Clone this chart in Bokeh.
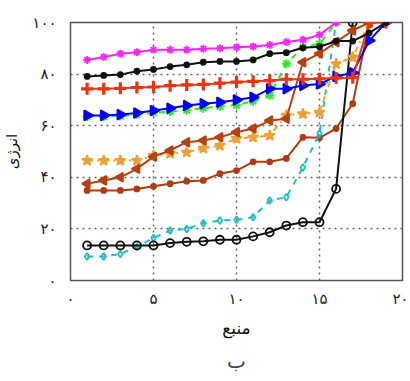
import math
from bokeh.plotting import figure
from bokeh.models import Range1d, FixedTicker, Title
from bokeh.embed import file_html
from bokeh.resources import INLINE

x_ticks = [0, 5, 10, 15, 20]
x_tick_labels = ["۰", "۵", "۱۰", "۱۵", "۲۰"]
y_ticks = [0, 20, 40, 60, 80, 100]
y_tick_labels = ["۰", "۲۰", "۴۰", "۶۰", "۸۰", "۱۰۰"]
x_label = "منبع"
y_label = "انرژی"
caption = "ب"

magenta = [85.5, 86.6, 87.9, 88.5, 89.4, 89.4, 89.4, 89.8, 90.0, 90.4, 90.7, 91.3, 92.4, 93.3, 95.2, 100]
black_dots = [79.1, 79.5, 79.8, 81.1, 81.8, 82.9, 83.6, 84.6, 84.9, 84.9, 85.5, 87.9, 88.3, 90.2, 90.6, 92.8, 92.8, 96.0, 100]
red = [74.3, 74.3, 74.5, 74.8, 75.0, 75.5, 75.8, 76.0, 76.5, 76.9, 77.2, 77.5, 78.0, 78.0, 78.2, 78.5, 78.6, 100, 100]
blue = [64.0, 64.0, 64.3, 64.9, 65.9, 66.8, 67.8, 68.5, 69.1, 70.0, 71.0, 74.3, 74.3, 75.6, 76.2, 79.1, 80.5, 93.0, 100]
green = [63.5, 63.5, 63.8, 64.3, 65.0, 65.5, 66.0, 66.8, 67.5, 68.0, 69.5, 71.7, 84.0, 90.4, 91.7, 100]
orange = [46.5, 46.5, 46.5, 46.5, 48.4, 49.2, 49.7, 51.2, 52.3, 55.0, 55.5, 56.2, 64.0, 64.6, 65.2, 84.0, 86.5, 100]
brown_tri = [37.5, 38.8, 40.0, 43.3, 48.0, 50.4, 53.6, 54.3, 55.5, 57.5, 58.9, 62.0, 62.7, 84.6, 88.0, 92.4, 96.9, 100]
brown_dots = [34.9, 34.9, 34.9, 35.5, 36.5, 37.5, 38.5, 38.8, 41.4, 42.6, 46.0, 46.0, 47.3, 55.5, 55.3, 58.9, 68.5, 100]
cyan = [9.3, 9.3, 10.3, 13.0, 16.5, 19.4, 20.0, 22.2, 23.3, 23.5, 24.5, 31.0, 32.3, 43.8, 57.0, 100]
black_open = [13.6, 13.6, 13.6, 13.6, 13.6, 14.5, 15.0, 15.2, 15.8, 15.8, 17.1, 18.7, 21.3, 22.6, 22.6, 35.5, 100]

FONT = "DejaVu Sans"

p = figure(width=408, height=379, output_backend="svg", toolbar_location=None,
           x_range=Range1d(0, 20), y_range=Range1d(0, 100),
           min_border_left=64, min_border_right=6, min_border_top=22, min_border_bottom=99)
p.background_fill_color = "white"
p.border_fill_color = "white"
p.outline_line_color = "#555555"
p.outline_line_width = 1.5

for ax in (p.xaxis[0], p.yaxis[0]):
    ax.axis_line_color = None
    ax.major_tick_line_color = None
    ax.minor_tick_line_color = None
    ax.major_label_text_font = FONT
    ax.major_label_text_font_size = "15px"
    ax.major_label_text_color = "#222222"
    ax.axis_label_text_font = FONT
    ax.axis_label_text_font_style = "normal"
    ax.axis_label_text_color = "#111111"

p.xaxis[0].ticker = FixedTicker(ticks=x_ticks)
p.xaxis[0].major_label_overrides = dict(zip(x_ticks, x_tick_labels))
p.yaxis[0].ticker = FixedTicker(ticks=y_ticks)
p.yaxis[0].major_label_overrides = dict(zip(y_ticks, y_tick_labels))
p.xaxis[0].axis_label = x_label
p.xaxis[0].axis_label_text_font_size = "17px"
p.xaxis[0].major_label_standoff = 3
p.xaxis[0].axis_label_standoff = 7
p.yaxis[0].axis_label = y_label
p.yaxis[0].axis_label_text_font_size = "15px"
p.yaxis[0].major_label_standoff = 8
p.yaxis[0].axis_label_standoff = 8

p.xgrid.ticker = FixedTicker(ticks=[5, 10, 15])
p.ygrid.ticker = FixedTicker(ticks=[20, 40, 60, 80])
for g in (p.xgrid[0], p.ygrid[0]):
    g.grid_line_color = "#666666"
    g.grid_line_dash = "2 4"
    g.grid_line_width = 1.5

def xs(vals):
    return list(range(1, len(vals) + 1))

def series(vals, color, dash, marker, size, fill, lw=2.0, mlw=1.8, angle=0.0):
    x = xs(vals)
    p.line(x, vals, line_color=color, line_width=lw, line_dash=dash)
    p.scatter(x, vals, marker=marker, size=size, line_color=color,
              fill_color=fill, line_width=mlw, angle=angle)

series(brown_dots, "#b23a10", "solid", "circle", 5, "#b23a10")
series(cyan, "#20c0c8", "dashed", "diamond", 7, None)
series(black_open, "#111111", "solid", "circle", 8, None)
series(orange, "#f0a030", "dashdot", "star", 11, "#f0a030")
series(brown_tri, "#b5420f", "solid", "triangle", 9, "#b5420f", angle=math.pi / 2)
series(green, "#22ee22", "dashed", "asterisk", 9, None)
series(blue, "#0000ff", "solid", "triangle", 10, "#0000ff", angle=-math.pi / 2)
series(red, "#ee3311", "solid", "cross", 12, None, mlw=3.2)
series(black_dots, "#111111", "solid", "circle", 5, "#111111")
series(magenta, "#ff22ff", "solid", "asterisk", 8, None)

p.add_layout(Title(text=caption, align="center", text_font=FONT,
                   text_font_size="20px", text_font_style="normal",
                   standoff=13), "below")

open("out.html", "w").write(file_html(p, INLINE))
